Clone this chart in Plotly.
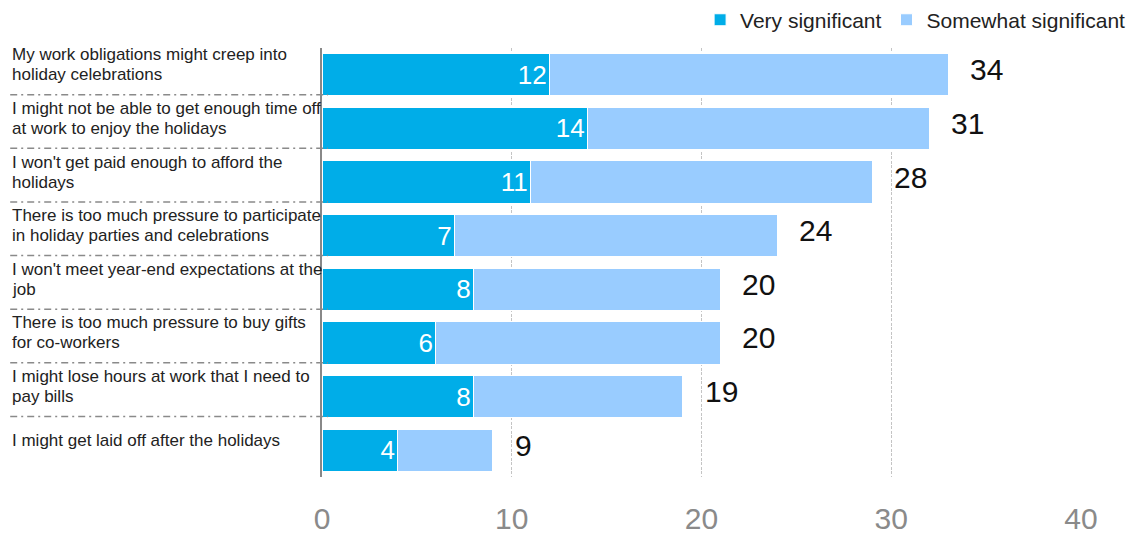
import plotly.graph_objects as go

categories = [
    "My work obligations might creep into<br>holiday celebrations",
    "I might not be able to get enough time off<br>at work to enjoy the holidays",
    "I won't get paid enough to afford the<br>holidays",
    "There is too much pressure to participate<br>in holiday parties and celebrations",
    "I won't meet year-end expectations at the<br>job",
    "There is too much pressure to buy gifts<br>for co-workers",
    "I might lose hours at work that I need to<br>pay bills",
    "I might get laid off after the holidays",
]
very = [12, 14, 11, 7, 8, 6, 8, 4]
somewhat = [21, 18, 18, 17, 13, 15, 11, 5]
totals = [34, 31, 28, 24, 20, 20, 19, 9]
x_ticks = [0, 10, 20, 30, 40]

FONT = "Liberation Sans, Arial, sans-serif"
DARK = "#00ADE8"
LIGHT = "#99CCFF"

pos = list(range(len(categories)))

fig = go.Figure()
fig.add_trace(go.Bar(
    y=pos, x=very, orientation="h", name="Very significant",
    marker=dict(color=DARK, line=dict(color="white", width=1)),
    text=very, textposition="inside", insidetextanchor="end",
    textfont=dict(color="white", size=26, family=FONT),
    constraintext="none", hoverinfo="skip",
))
fig.add_trace(go.Bar(
    y=pos, x=somewhat, orientation="h", name="Somewhat significant",
    marker=dict(color=LIGHT, line=dict(color="white", width=1)),
    hoverinfo="skip",
))

annotations = []
for i, (v, s, t) in enumerate(zip(very, somewhat, totals)):
    annotations.append(dict(
        x=v + s, y=i, xref="x", yref="y", text=str(t), showarrow=False,
        xanchor="left", yanchor="middle", xshift=20, yshift=5,
        font=dict(size=30, color="#111111", family=FONT),
    ))
for i, lab in enumerate(categories):
    lines = lab.split("<br>")
    n = len(lines)
    for k, line in enumerate(lines):
        annotations.append(dict(
            x=0, y=i, xref="paper", yref="y", text=line, showarrow=False,
            xanchor="left", yanchor="middle", xshift=-312,
            yshift=10 + ((n - 1) / 2 - k) * 20,
            font=dict(size=17, color="#222222", family=FONT),
        ))

shapes = []
for i in range(len(categories) - 1):
    shapes.append(dict(
        type="line", xref="paper", yref="y",
        x0=-312 / 759.5, x1=6 / 759.5, y0=i + 0.37, y1=i + 0.37,
        line=dict(color="#8a8a8a", width=1.5, dash="7px,4px,2px,4px"),
        layer="above",
    ))

fig.update_layout(
    barmode="stack",
    bargap=0.21,
    width=1133, height=537,
    margin=dict(l=322, r=51.5, t=48, b=60, autoexpand=False),
    plot_bgcolor="white", paper_bgcolor="white",
    font=dict(family=FONT),
    showlegend=True,
    legend=dict(
        orientation="h", x=1.066, xanchor="right", y=1.065, yanchor="middle",
        font=dict(size=21, color="#222222", family=FONT),
        traceorder="normal", itemwidth=30,
        bgcolor="rgba(0,0,0,0)",
    ),
    xaxis=dict(
        range=[0, 40], tickvals=x_ticks, ticktext=[str(v) for v in x_ticks],
        showgrid=True, gridcolor="#c4c4c4", gridwidth=1, griddash="3px,1.5px",
        zeroline=False, showline=False, ticks="",
        tickfont=dict(size=30, color="#8a8a8a", family=FONT),
        ticklabelstandoff=21, fixedrange=True,
    ),
    yaxis=dict(
        range=[7.5, -0.5], showticklabels=False, showgrid=False,
        zeroline=False, showline=True, linecolor="#888888", linewidth=2,
        ticks="", fixedrange=True,
    ),
    annotations=annotations,
    shapes=shapes,
)

fig.write_html("out.html", config={"displayModeBar": False},
               post_script="document.body.style.margin='0';")
